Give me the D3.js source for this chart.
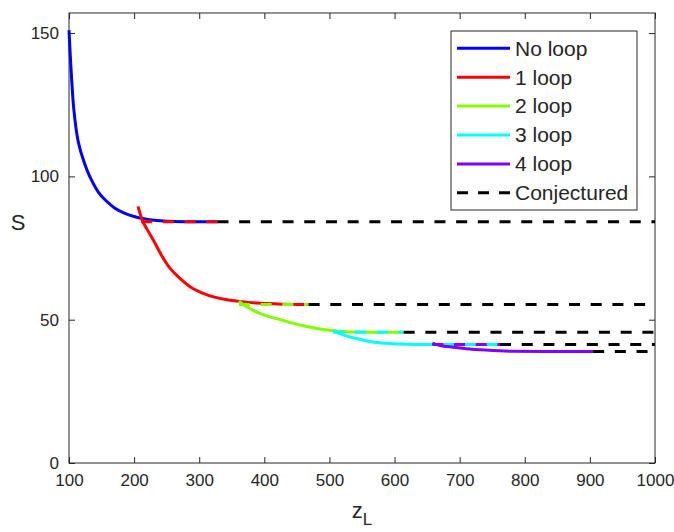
<!DOCTYPE html>
<html><head><meta charset="utf-8">
<script src="https://cdn.jsdelivr.net/npm/d3@7"></script>
<style>body{margin:0;background:#fff}svg{display:block}text{font-family:"Liberation Sans",Arial,sans-serif;fill:#262626}</style>
</head><body><svg id="c" width="674" height="532"></svg>
<script>
// ---- data ----
const noLoopZ = [100,102,104,106,109,113,117,121,128,135,145,157,170,185,200,215,235,260,290,328];
const noLoopS = [151,142,134,127,120,113.5,109.5,106.5,102,98.5,94.5,91.5,89,87.2,86,85.2,84.6,84.3,84.2,84.2];
const oneLoopZ = [206,212,220,229,242,255,270,286,305,325,345,365,390,420,468];
const oneLoopS = [89.5,85,81.5,78,72.5,68,64.5,61.5,59.3,57.8,56.9,56.3,55.8,55.5,55.3];
const oneLoopUpperZ = [211,328];
const oneLoopUpperS = [84.2,84.2];
const twoLoopZ = [361,368,380,395,410,425,445,465,481,500,520,550,580,614];
const twoLoopS = [56.5,55.2,53.6,52.0,50.9,50.0,48.7,47.6,46.9,46.3,45.9,45.7,45.6,45.6];
const twoLoopUpperZ = [361,468];
const twoLoopUpperS = [55.3,55.3];
const threeLoopZ = [506,520,540,560,580,610,650,700,762];
const threeLoopS = [46.2,44.8,43.5,42.5,41.9,41.5,41.3,41.3,41.3];
const threeLoopUpperZ = [506,614];
const threeLoopUpperS = [45.6,45.6];
const fourLoopZ = [658,670,690,710,740,780,830,905];
const fourLoopS = [41.8,41.0,40.4,39.9,39.4,39.0,38.9,38.9];
const fourLoopUpperZ = [658,762];
const fourLoopUpperS = [41.3,41.3];
const conjStartZ = [328,468,614,762,905];
const conjLevelS = [84.2,55.3,45.6,41.3,38.9];
const conjEndZ = 1000;
const xTicks = [100,200,300,400,500,600,700,800,900,1000];
const yTicks = [0,50,100,150];
const legendLabels = ["No loop","1 loop","2 loop","3 loop","4 loop","Conjectured"];
const colors = ["#0000ff","#ff0000","#80ff00","#00ffff","#8000ff","#000000"];

// ---- layout ----
const svg = d3.select("#c");
const L=69, R=655, T=13, B=463;
const x = d3.scaleLinear().domain([100,1000]).range([L,R]);
const y = d3.scaleLinear().domain([0,157]).range([B,T]);
const line = d3.line().x(d=>x(d[0])).y(d=>y(d[1])).curve(d3.curveMonotoneX);
const zip = (a,b)=>a.map((v,i)=>[v,b[i]]);
const dash = "11,10.7";
const lw = 3;

const axisCol = "#262626";
const tl = 6;
const gx = svg.append("g").attr("transform",`translate(0,${B})`)
  .call(d3.axisBottom(x).tickValues(xTicks).tickSizeInner(-tl).tickSizeOuter(0).tickPadding(11).tickFormat(d3.format("d")));
const gxt = svg.append("g").attr("transform",`translate(0,${T})`)
  .call(d3.axisTop(x).tickValues(xTicks).tickSizeInner(-tl).tickSizeOuter(0).tickFormat(""));
const gy = svg.append("g").attr("transform",`translate(${L},0)`)
  .call(d3.axisLeft(y).tickValues(yTicks).tickSizeInner(-tl).tickSizeOuter(0).tickPadding(10).tickFormat(d3.format("d")));
const gyr = svg.append("g").attr("transform",`translate(${R},0)`)
  .call(d3.axisRight(y).tickValues(yTicks).tickSizeInner(-tl).tickSizeOuter(0).tickFormat(""));
[gx,gxt,gy,gyr].forEach(g=>{
  g.select(".domain").remove();
  g.selectAll("line").attr("stroke",axisCol);
  g.selectAll("text").style("font-size","17px").attr("fill",axisCol);
});
svg.append("rect").attr("x",L).attr("y",T).attr("width",R-L).attr("height",B-T)
  .attr("fill","none").attr("stroke",axisCol).attr("stroke-width",1);

// ---- series ----
const plot = svg.append("g");
function draw(zs,ss,col,dashed){
  plot.append("path").datum(zip(zs,ss)).attr("d",line).attr("fill","none")
    .attr("stroke",col).attr("stroke-width",lw).attr("stroke-linejoin","round")
    .attr("stroke-dasharray",dashed?dash:null);
}
draw(noLoopZ,noLoopS,colors[0],false);
draw(oneLoopZ,oneLoopS,colors[1],false);
draw(oneLoopUpperZ,oneLoopUpperS,colors[1],true);
draw(twoLoopZ,twoLoopS,colors[2],false);
draw(twoLoopUpperZ,twoLoopUpperS,colors[2],true);
draw(threeLoopZ,threeLoopS,colors[3],false);
draw(threeLoopUpperZ,threeLoopUpperS,colors[3],true);
draw(fourLoopZ,fourLoopS,colors[4],false);
draw(fourLoopUpperZ,fourLoopUpperS,colors[4],true);
conjStartZ.forEach((z0,i)=>draw([z0,conjEndZ],[conjLevelS[i],conjLevelS[i]],colors[5],true));

// ---- axis labels ----
svg.append("text").attr("x",18).attr("y",230).attr("text-anchor","middle")
  .style("font-size","22px").text("S");
const xl = svg.append("text").attr("x",362).attr("y",518).attr("text-anchor","middle").style("font-size","22px");
xl.append("tspan").text("z");
xl.append("tspan").attr("dy",7).style("font-size","17px").text("L");

// ---- legend ----
const lg = svg.append("g");
lg.append("rect").attr("x",451).attr("y",31).attr("width",186).attr("height",179)
  .attr("fill","#fff").attr("stroke",axisCol).attr("stroke-width",1);
legendLabels.forEach((lab,i)=>{
  const yy = 48.3 + i*28.9;
  lg.append("line").attr("x1",457).attr("x2",510).attr("y1",yy).attr("y2",yy)
    .attr("stroke",colors[i]).attr("stroke-width",lw)
    .attr("stroke-dasharray", i===5 ? "11,10" : null);
  lg.append("text").attr("x",515).attr("y",yy).attr("dy","0.35em")
    .style("font-size","21px").attr("fill","#000").text(lab);
});
</script></body></html>
